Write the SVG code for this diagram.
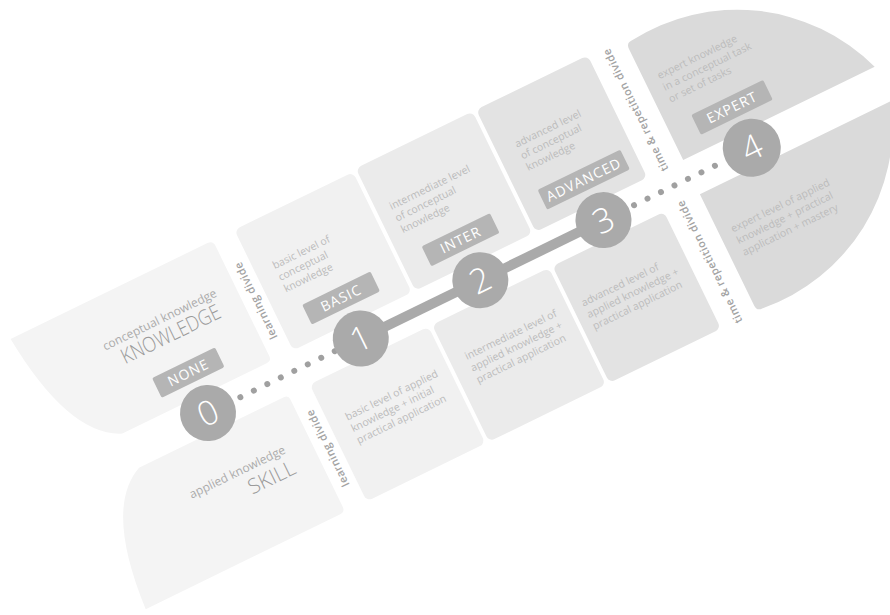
<svg xmlns="http://www.w3.org/2000/svg" width="890" height="615" viewBox="0 0 890 615">
<style>
.t{font-family:"Open Sans","Liberation Sans",sans-serif;font-size:10.5px;fill:#bcbcbc}
.ttl{font-family:"Open Sans","Liberation Sans",sans-serif;font-size:21px;fill:#9a9a9a;font-weight:300}
.sub{font-family:"Open Sans","Liberation Sans",sans-serif;font-size:12px;fill:#ababab}
.lbl{fill:#b5b5b5}
.lt{font-family:"Open Sans","Liberation Sans",sans-serif;font-size:14px;fill:#ffffff;text-anchor:middle;letter-spacing:1px}
.num{font-family:"Open Sans","Liberation Sans",sans-serif;font-size:34px;fill:#ffffff;font-weight:300;text-anchor:middle}
.cir{fill:#aaaaaa}
.dv{font-family:"Open Sans","Liberation Sans",sans-serif;font-size:11px;fill:#a3a3a3;text-anchor:middle;font-weight:600;letter-spacing:0.4px}
.dot{fill:#a0a0a0}
</style>
<rect width="890" height="615" fill="#ffffff"/>
<g transform="translate(208,413) rotate(-26)">
  <g id="knowledge-card">
    <path d="M -145 -153 H 74 Q 80 -153 80 -147 V -24 Q 80 -19 75 -19 H -86 Q -135 -40 -145 -153 Z" fill="#f4f4f4"/>
    <text class="sub" x="60" y="-101" text-anchor="end">conceptual knowledge</text>
    <text class="ttl" x="-53" y="-80" textLength="108" lengthAdjust="spacingAndGlyphs">KNOWLEDGE</text>
  </g>
  <g id="skill-card">
    <path d="M -86 19 H 75 Q 80 19 80 24 V 143 Q 80 149 74 149 H -142 Q -135 40 -86 19 Z" fill="#f4f4f4"/>
    <text class="sub" x="53" y="70" text-anchor="end">applied knowledge</text>
    <text class="ttl" x="4" y="93" textLength="50" lengthAdjust="spacingAndGlyphs">SKILL</text>
  </g>
  <g id="divide-learning">
    <text class="dv" transform="translate(92,-80) rotate(-90)" dy="4">learning divide</text>
    <text class="dv" transform="translate(92,84) rotate(-90)" dy="4">learning divide</text>
  </g>
  <g id="basic-top">
    <rect x="104" y="-153" width="132" height="134" rx="6" fill="#f1f1f1"/>
    <text class="t" x="123" y="-100"><tspan x="123">basic level of</tspan><tspan x="123" dy="13">conceptual</tspan><tspan x="123" dy="13">knowledge</tspan></text>
  </g>
  <g id="basic-bottom">
    <rect x="104" y="19" width="132" height="130" rx="6" fill="#f1f1f1"/>
    <text class="t" x="122" y="68"><tspan x="122">basic level of applied</tspan><tspan x="122" dy="13">knowledge + initial</tspan><tspan x="122" dy="13">practical application</tspan></text>
  </g>
  <g id="inter-top">
    <rect x="240" y="-155" width="130" height="136" rx="6" fill="#ebebeb"/>
    <text class="t" x="254" y="-102"><tspan x="254">intermediate level</tspan><tspan x="254" dy="13">of conceptual</tspan><tspan x="254" dy="13">knowledge</tspan></text>
  </g>
  <g id="inter-bottom">
    <rect x="240" y="19" width="130" height="130" rx="6" fill="#ebebeb"/>
    <text class="t" x="256" y="66"><tspan x="256">intermediate level of</tspan><tspan x="256" dy="13">applied knowledge +</tspan><tspan x="256" dy="13">practical application</tspan></text>
  </g>
  <g id="advanced-top">
    <rect x="374" y="-155" width="124" height="136" rx="6" fill="#e3e3e3"/>
    <text class="t" x="394" y="-103"><tspan x="394">advanced level</tspan><tspan x="394" dy="13">of conceptual</tspan><tspan x="394" dy="13">knowledge</tspan></text>
  </g>
  <g id="advanced-bottom">
    <rect x="374" y="19" width="124" height="130" rx="6" fill="#e3e3e3"/>
    <text class="t" x="384" y="69"><tspan x="384">advanced level of</tspan><tspan x="384" dy="13">applied knowledge +</tspan><tspan x="384" dy="13">practical application</tspan></text>
  </g>
  <g id="divide-time">
    <text class="dv" transform="translate(517,-85) rotate(-90)" dy="4">time &amp; repetition divide</text>
    <text class="dv" transform="translate(517,84) rotate(-90)" dy="4">time &amp; repetition divide</text>
  </g>
  <g id="expert-top">
    <path d="M 538 -143 Q 538 -149 544 -149 A 195 195 0 0 1 751 -19 H 538 Z" fill="#dadada"/>
    <text class="t" x="552" y="-102"><tspan x="552">expert knowledge</tspan><tspan x="552" dy="13">in a conceptual task</tspan><tspan x="552" dy="13">or set of tasks</tspan></text>
  </g>
  <g id="expert-bottom">
    <path d="M 538 19 H 751 A 195 195 0 0 1 544 149 Q 538 149 538 143 Z" fill="#dadada"/>
    <text class="t" x="551" y="68"><tspan x="551">expert level of applied</tspan><tspan x="551" dy="13">knowledge + practical</tspan><tspan x="551" dy="13">application + mastery</tspan></text>
  </g>
  <g id="connectors">
    <g class="dot">
      <circle cx="36" cy="0" r="3"/><circle cx="51" cy="0" r="3"/><circle cx="66" cy="0" r="3"/><circle cx="81" cy="0" r="3"/><circle cx="96" cy="0" r="3"/><circle cx="111" cy="0" r="3"/><circle cx="126" cy="0" r="3"/><circle cx="141" cy="0" r="3"/>
      <circle cx="474" cy="0" r="3"/><circle cx="489" cy="0" r="3"/><circle cx="504" cy="0" r="3"/><circle cx="519" cy="0" r="3"/><circle cx="534" cy="0" r="3"/><circle cx="549" cy="0" r="3"/><circle cx="564" cy="0" r="3"/>
    </g>
    <line x1="170" y1="0" x2="440" y2="0" stroke="#aaaaaa" stroke-width="10"/>
  </g>
  <g id="level-0">
    <rect class="lbl" x="-35" y="-56" width="70" height="22" rx="2"/>
    <text class="lt" x="0" y="-40">NONE</text>
    <circle class="cir" cx="0" cy="0" r="28"/>
    <text class="num" x="0" y="12">0</text>
  </g>
  <g id="level-1">
    <rect class="lbl" x="132" y="-56" width="76" height="22" rx="2"/>
    <text class="lt" x="170" y="-40">BASIC</text>
    <circle class="cir" cx="170" cy="0" r="28"/>
    <text class="num" x="170" y="12">1</text>
  </g>
  <g id="level-2">
    <rect class="lbl" x="265" y="-56" width="76" height="22" rx="2"/>
    <text class="lt" x="303" y="-40">INTER</text>
    <circle class="cir" cx="303" cy="0" r="28"/>
    <text class="num" x="303" y="12">2</text>
  </g>
  <g id="level-3">
    <rect class="lbl" x="394" y="-56" width="92" height="22" rx="2"/>
    <text class="lt" x="440" y="-40">ADVANCED</text>
    <circle class="cir" cx="440" cy="0" r="28"/>
    <text class="num" x="440" y="12">3</text>
  </g>
  <g id="level-4">
    <rect class="lbl" x="565" y="-56" width="80" height="22" rx="2"/>
    <text class="lt" x="605" y="-40">EXPERT</text>
    <circle class="cir" cx="605" cy="0" r="29"/>
    <text class="num" x="605" y="12">4</text>
  </g>
</g>
</svg>
